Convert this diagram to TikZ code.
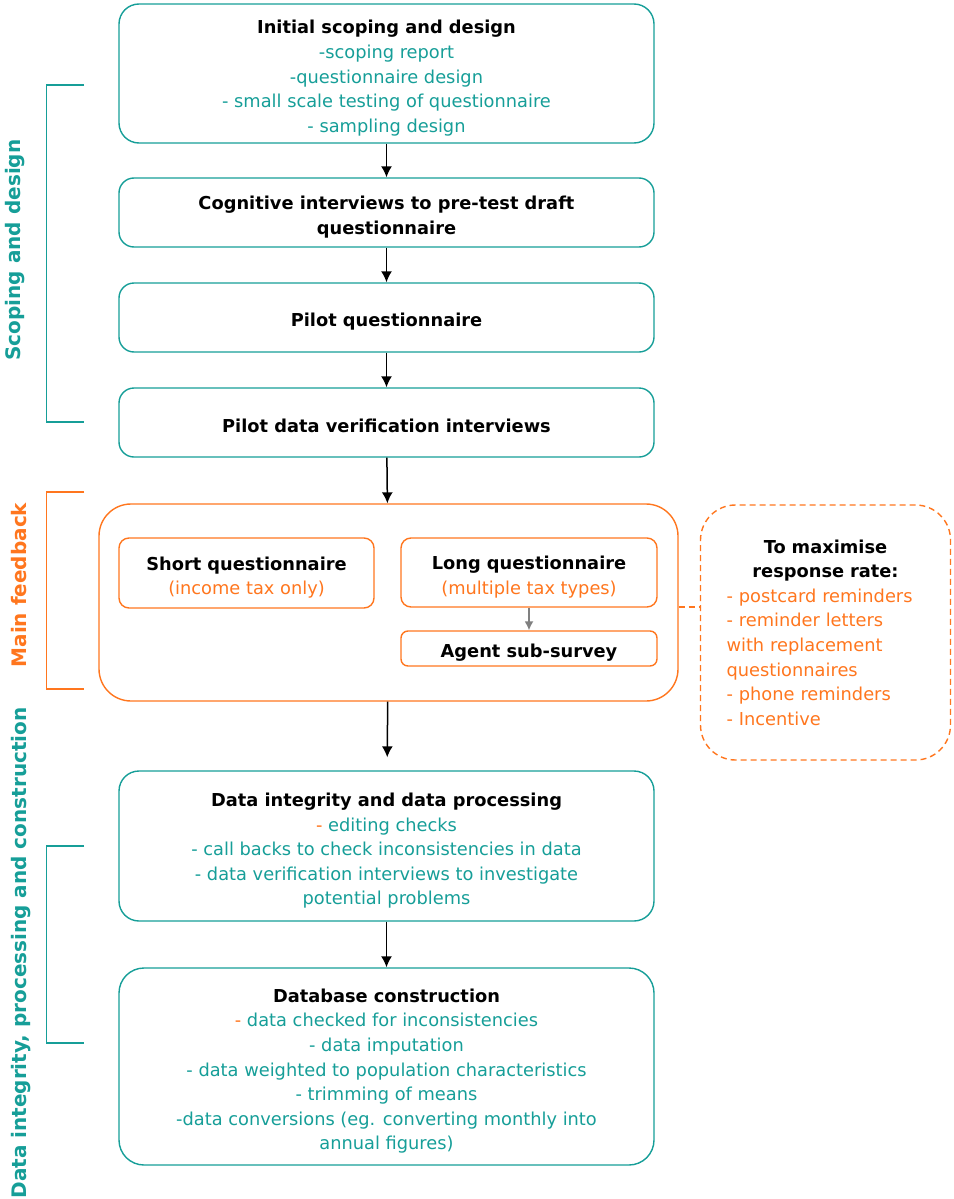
\documentclass[tikz,border=0pt]{standalone}
\usepackage{fontspec}
\setmainfont{DejaVu Sans}
\newfontfamily\sidefont{DejaVu Sans}
\usetikzlibrary{arrows.meta}
\definecolor{sdteal}{RGB}{22,158,152}
\definecolor{sdorange}{RGB}{255,118,30}
\newcommand{\hd}[1]{{\color{black}\bfseries #1}}
\newcommand{\od}{{\color{sdorange}-}}
\newcommand{\tp}{\rule{0pt}{23pt}}
\tikzset{
  stagebox/.style={draw=sdteal,line width=1.4pt,rounded corners=20pt,align=center,text=sdteal,inner sep=2pt,
    execute at begin node={\rule{0pt}{21pt}}},
  feedbox/.style={draw=sdorange,line width=1.4pt,rounded corners=10pt,align=center,text=sdorange,inner sep=2pt,
    execute at begin node={\rule{0pt}{21pt}}},
  sidelabel/.style={rotate=90,font=\sidefont\bfseries\fontsize{20}{22}\selectfont},
  flow/.style={line width=1.5pt,-{Latex[length=11pt,width=11pt]}},
  longdash/.style={dash pattern=on 6pt off 4pt},
}
\begin{document}
\begin{tikzpicture}[x=1pt,y=-1pt,font=\fontsize{17.8}{24.6}\selectfont]
\useasboundingbox (0,0) rectangle (953,1199);
% stages
\node[stagebox,minimum width=535,minimum height=139] (scope) at (386.5,73.5) {\tp\hd{Initial scoping and design}\\-scoping report\\-questionnaire design\\- small scale testing of questionnaire\\- sampling design};
\node[stagebox,rounded corners=15pt,minimum width=535,minimum height=69] (cogn) at (386.5,212.5) {\tp\hd{Cognitive interviews to pre-test draft}\\\hd{questionnaire}};
\node[stagebox,rounded corners=15pt,minimum width=535,minimum height=69] (pilot) at (386.5,317.5) {\hd{Pilot questionnaire}};
\node[stagebox,rounded corners=15pt,minimum width=535,minimum height=69] (pverif) at (386.5,422.5) {\hd{Pilot data verification interviews}};
% main fieldwork
\node[feedbox,rounded corners=32pt,minimum width=579,minimum height=197] (main) at (388.5,602.5) {};
\node[feedbox,minimum width=255,minimum height=70] (short) at (246.5,573) {\tp\hd{Short questionnaire}\\(income tax only)};
\node[feedbox,minimum width=256,minimum height=69] (long) at (529,572.5) {\tp\hd{Long questionnaire}\\(multiple tax types)};
\node[feedbox,rounded corners=7pt,minimum width=256,minimum height=35] (agent) at (529,648.5) {\hd{Agent sub-survey}};
\node[draw=sdorange,longdash,line width=1.4pt,rounded corners=35pt,minimum width=250,minimum height=255,text width=198pt,align=left,text=sdorange] (resp) at (825.5,632.5) {{\centering\hd{To maximise}\\\hd{response rate:}\par}- postcard reminders\\- reminder letters\\with replacement\\questionnaires\\- phone reminders\\- Incentive};
% processing
\node[stagebox,minimum width=535,minimum height=150] (integ) at (386.5,846) {\tp\hd{Data integrity and data processing}\\\od{} editing checks\\- call backs to check inconsistencies in data\\- data verification interviews to investigate\\potential problems};
\node[stagebox,rounded corners=25pt,minimum width=535,minimum height=197] (dbase) at (386.5,1066.5) {\tp\hd{Database construction}\\\od{} data checked for inconsistencies\\- data imputation\\- data weighted to population characteristics\\- trimming of means\\-data conversions (eg. converting monthly into\\annual figures)};
% connectors
\draw[flow] (scope) -- (cogn);
\draw[flow] (cogn) -- (pilot);
\draw[flow] (pilot) -- (pverif);
\draw[flow] (pverif) -- (main);
\draw[flow,shorten >=13pt] (main) -- (integ);
\draw[flow] (integ) -- (dbase);
\draw[gray,line width=1.5pt,-{Latex[length=9pt,width=9pt]}] (long) -- (agent);
\draw[sdorange,longdash,line width=1.4pt] ([yshift=-4.5pt]main.east) -- ([yshift=-4.5pt]main.east -| resp.west);
% phase brackets
\draw[sdteal,line width=1.4pt] (84,85) -| (46.5,422) -- (84,422);
\draw[sdorange,line width=1.4pt] (84,492) -| (46.5,689) -- (84,689);
\draw[sdteal,line width=1.4pt] (84,846) -| (46.5,1043) -- (84,1043);
\node[sidelabel,text=sdteal] (lscope) at (15,250) {Scoping and design};
\node[sidelabel,text=sdorange] (lfeed) at (19,585) {Main feedback};
\node[sidelabel,text=sdteal] (linteg) at (21,953) {Data integrity, processing and construction};
\end{tikzpicture}
\end{document}
